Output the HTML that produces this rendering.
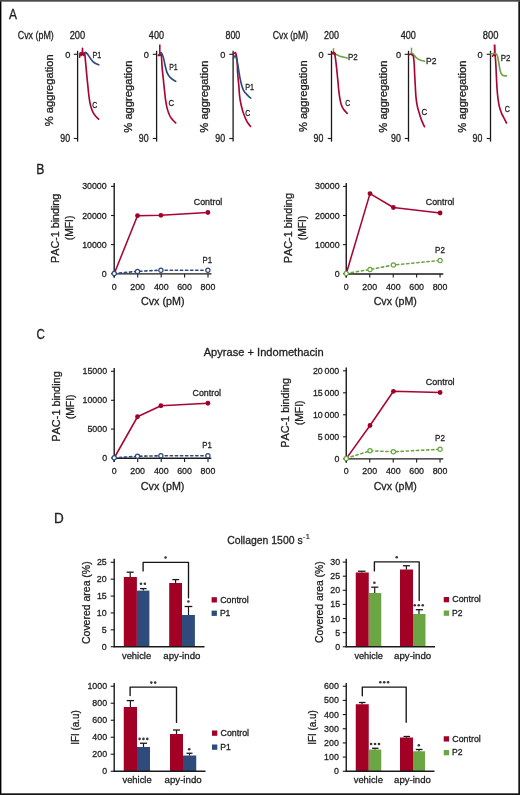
<!DOCTYPE html>
<html><head><meta charset="utf-8"><title>Figure</title>
<style>
html,body{margin:0;padding:0;background:#fff;}
body{width:520px;height:795px;overflow:hidden;}
svg{display:block;will-change:transform;}
text{font-family:"Liberation Sans",sans-serif;font-kerning:none;stroke:#1f1f1f;stroke-width:0.3px;}
</style></head>
<body>
<svg width="520" height="795" viewBox="0 0 520 795">
<rect x="0" y="0" width="520" height="795" fill="#fff"/>
<text x="8.98" y="18.60" font-size="14.6" textLength="7.95" lengthAdjust="spacingAndGlyphs" fill="#1f1f1f" style="stroke-width:0.32px">A</text>
<text x="17.75" y="39.20" font-size="10.0" textLength="36.00" lengthAdjust="spacingAndGlyphs" fill="#1f1f1f">Cvx (pM)</text>
<text x="272.76" y="39.20" font-size="10.0" textLength="35.28" lengthAdjust="spacingAndGlyphs" fill="#1f1f1f">Cvx (pM)</text>
<text x="69.68" y="39.20" font-size="10.0" textLength="15.53" lengthAdjust="spacingAndGlyphs" fill="#1f1f1f">200</text>
<text x="148.84" y="39.20" font-size="10.0" textLength="15.16" lengthAdjust="spacingAndGlyphs" fill="#1f1f1f">400</text>
<text x="225.47" y="39.20" font-size="10.0" textLength="14.73" lengthAdjust="spacingAndGlyphs" fill="#1f1f1f">800</text>
<text x="324.10" y="39.20" font-size="10.0" textLength="14.90" lengthAdjust="spacingAndGlyphs" fill="#1f1f1f">200</text>
<text x="400.74" y="39.20" font-size="10.0" textLength="15.16" lengthAdjust="spacingAndGlyphs" fill="#1f1f1f">400</text>
<text x="482.74" y="39.20" font-size="10.0" textLength="15.68" lengthAdjust="spacingAndGlyphs" fill="#1f1f1f">800</text>
<line x1="77.60" y1="50.80" x2="77.60" y2="141.60" stroke="#1a1a1a" stroke-width="1.3"/>
<line x1="73.80" y1="54.30" x2="77.60" y2="54.30" stroke="#1a1a1a" stroke-width="1.1"/>
<line x1="73.80" y1="138.50" x2="77.60" y2="138.50" stroke="#1a1a1a" stroke-width="1.1"/>
<text x="65.24" y="57.80" font-size="9.7" textLength="5.12" lengthAdjust="spacingAndGlyphs" fill="#1f1f1f">0</text>
<text x="60.26" y="141.60" font-size="10.0" textLength="9.79" lengthAdjust="spacingAndGlyphs" fill="#1f1f1f">90</text>
<text transform="translate(52.70,125.80) rotate(-90)" x="-0.40" y="0" font-size="11.6" textLength="71.82" lengthAdjust="spacingAndGlyphs" fill="#1f1f1f">% aggregation</text>
<line x1="156.60" y1="50.80" x2="156.60" y2="141.60" stroke="#1a1a1a" stroke-width="1.3"/>
<line x1="152.80" y1="54.30" x2="156.60" y2="54.30" stroke="#1a1a1a" stroke-width="1.1"/>
<line x1="152.80" y1="138.50" x2="156.60" y2="138.50" stroke="#1a1a1a" stroke-width="1.1"/>
<text x="143.74" y="57.80" font-size="9.7" textLength="5.12" lengthAdjust="spacingAndGlyphs" fill="#1f1f1f">0</text>
<text x="138.76" y="141.60" font-size="10.0" textLength="9.79" lengthAdjust="spacingAndGlyphs" fill="#1f1f1f">90</text>
<text transform="translate(131.80,132.30) rotate(-90)" x="-0.40" y="0" font-size="11.6" textLength="72.23" lengthAdjust="spacingAndGlyphs" fill="#1f1f1f">% aggregation</text>
<line x1="233.10" y1="50.80" x2="233.10" y2="141.60" stroke="#1a1a1a" stroke-width="1.3"/>
<line x1="229.30" y1="54.30" x2="233.10" y2="54.30" stroke="#1a1a1a" stroke-width="1.1"/>
<line x1="229.30" y1="138.50" x2="233.10" y2="138.50" stroke="#1a1a1a" stroke-width="1.1"/>
<text x="220.24" y="57.80" font-size="9.7" textLength="5.12" lengthAdjust="spacingAndGlyphs" fill="#1f1f1f">0</text>
<text x="215.26" y="141.60" font-size="10.0" textLength="9.79" lengthAdjust="spacingAndGlyphs" fill="#1f1f1f">90</text>
<text transform="translate(208.00,132.30) rotate(-90)" x="-0.40" y="0" font-size="11.6" textLength="72.23" lengthAdjust="spacingAndGlyphs" fill="#1f1f1f">% aggregation</text>
<line x1="331.50" y1="50.80" x2="331.50" y2="141.60" stroke="#1a1a1a" stroke-width="1.3"/>
<line x1="327.70" y1="54.30" x2="331.50" y2="54.30" stroke="#1a1a1a" stroke-width="1.1"/>
<line x1="327.70" y1="138.50" x2="331.50" y2="138.50" stroke="#1a1a1a" stroke-width="1.1"/>
<text x="318.54" y="57.80" font-size="9.7" textLength="5.12" lengthAdjust="spacingAndGlyphs" fill="#1f1f1f">0</text>
<text x="313.56" y="141.60" font-size="10.0" textLength="9.79" lengthAdjust="spacingAndGlyphs" fill="#1f1f1f">90</text>
<text transform="translate(307.10,131.70) rotate(-90)" x="-0.40" y="0" font-size="11.6" textLength="71.82" lengthAdjust="spacingAndGlyphs" fill="#1f1f1f">% aggregation</text>
<line x1="408.50" y1="50.80" x2="408.50" y2="141.60" stroke="#1a1a1a" stroke-width="1.3"/>
<line x1="404.70" y1="54.30" x2="408.50" y2="54.30" stroke="#1a1a1a" stroke-width="1.1"/>
<line x1="404.70" y1="138.50" x2="408.50" y2="138.50" stroke="#1a1a1a" stroke-width="1.1"/>
<text x="396.04" y="57.80" font-size="9.7" textLength="5.12" lengthAdjust="spacingAndGlyphs" fill="#1f1f1f">0</text>
<text x="391.06" y="141.60" font-size="10.0" textLength="9.79" lengthAdjust="spacingAndGlyphs" fill="#1f1f1f">90</text>
<text transform="translate(386.90,132.30) rotate(-90)" x="-0.40" y="0" font-size="11.6" textLength="72.23" lengthAdjust="spacingAndGlyphs" fill="#1f1f1f">% aggregation</text>
<line x1="490.50" y1="50.80" x2="490.50" y2="141.60" stroke="#1a1a1a" stroke-width="1.3"/>
<line x1="486.70" y1="54.30" x2="490.50" y2="54.30" stroke="#1a1a1a" stroke-width="1.1"/>
<line x1="486.70" y1="138.50" x2="490.50" y2="138.50" stroke="#1a1a1a" stroke-width="1.1"/>
<text x="477.54" y="57.80" font-size="9.7" textLength="5.12" lengthAdjust="spacingAndGlyphs" fill="#1f1f1f">0</text>
<text x="472.56" y="141.60" font-size="10.0" textLength="9.79" lengthAdjust="spacingAndGlyphs" fill="#1f1f1f">90</text>
<text transform="translate(465.90,132.30) rotate(-90)" x="-0.40" y="0" font-size="11.6" textLength="72.23" lengthAdjust="spacingAndGlyphs" fill="#1f1f1f">% aggregation</text>
<path d="M84.70,52.80 C84.78,53.67 85.00,55.87 85.20,58.00 C85.40,60.13 85.63,62.70 85.90,65.60 C86.17,68.50 86.48,72.12 86.80,75.40 C87.12,78.68 87.47,82.03 87.80,85.30 C88.13,88.57 88.47,92.22 88.80,95.00 C89.13,97.78 89.40,99.87 89.80,102.00 C90.20,104.13 90.63,106.02 91.20,107.80 C91.77,109.58 92.45,111.30 93.20,112.70 C93.95,114.10 94.80,115.13 95.70,116.20 C96.60,117.27 98.12,118.62 98.60,119.10" fill="none" stroke="#A80534" stroke-width="1.65" stroke-linejoin="round" stroke-linecap="round"/>
<path d="M79.70,57.30 L79.90,53.20 L81.00,52.80 L81.40,55.50 L82.30,52.80 L82.50,48.30 L82.70,53.50 L83.50,55.50 L84.20,52.80 L84.70,52.80" fill="none" stroke="#A80534" stroke-width="1.6" stroke-linejoin="round" stroke-linecap="round"/>
<path d="M85.00,52.80 C85.10,52.72 85.33,52.23 85.60,52.30 C85.87,52.37 86.23,52.83 86.60,53.20 C86.97,53.57 87.18,53.65 87.80,54.50 C88.42,55.35 89.48,57.17 90.30,58.30 C91.12,59.43 91.80,60.43 92.70,61.30 C93.60,62.17 94.68,62.92 95.70,63.50 C96.72,64.08 98.28,64.58 98.80,64.80" fill="none" stroke="#2F4B7C" stroke-width="1.65" stroke-linejoin="round" stroke-linecap="round"/>
<text x="92.41" y="57.80" font-size="9.0" textLength="8.73" lengthAdjust="spacingAndGlyphs" fill="#1f1f1f">P1</text>
<text x="92.25" y="107.50" font-size="9.0" textLength="5.02" lengthAdjust="spacingAndGlyphs" fill="#1f1f1f">C</text>
<line x1="159.80" y1="44.60" x2="159.80" y2="55.00" stroke="#A80534" stroke-width="1.6"/>
<path d="M158.30,55.50 L159.80,53.80 L161.20,55.50" fill="none" stroke="#A80534" stroke-width="1.4" stroke-linejoin="round" stroke-linecap="round"/>
<path d="M158.50,55.50 C158.83,55.45 160.02,55.12 160.50,55.20 C160.98,55.28 161.12,53.80 161.40,56.00 C161.68,58.20 161.88,64.57 162.20,68.40 C162.52,72.23 162.93,75.47 163.30,79.00 C163.67,82.53 164.02,86.08 164.40,89.60 C164.78,93.12 165.13,96.93 165.60,100.10 C166.07,103.27 166.48,105.95 167.20,108.60 C167.92,111.25 169.02,114.15 169.90,116.00 C170.78,117.85 171.53,118.55 172.50,119.70 C173.47,120.85 175.17,122.37 175.70,122.90" fill="none" stroke="#A80534" stroke-width="1.65" stroke-linejoin="round" stroke-linecap="round"/>
<path d="M160.30,53.20 C160.40,53.10 160.63,52.53 160.90,52.60 C161.17,52.67 161.47,52.72 161.90,53.60 C162.33,54.48 162.97,55.95 163.50,57.90 C164.03,59.85 164.57,63.02 165.10,65.30 C165.63,67.58 166.08,69.85 166.70,71.60 C167.32,73.35 167.92,74.57 168.80,75.80 C169.68,77.03 170.85,78.08 172.00,79.00 C173.15,79.92 175.08,80.92 175.70,81.30" fill="none" stroke="#2F4B7C" stroke-width="1.65" stroke-linejoin="round" stroke-linecap="round"/>
<text x="169.23" y="69.80" font-size="9.0" textLength="8.51" lengthAdjust="spacingAndGlyphs" fill="#1f1f1f">P1</text>
<text x="168.51" y="106.40" font-size="9.0" textLength="5.59" lengthAdjust="spacingAndGlyphs" fill="#1f1f1f">C</text>
<path d="M233.10,54.50 C233.48,54.17 234.83,52.22 235.40,52.50 C235.97,52.78 236.23,54.98 236.50,56.20 C236.77,57.42 236.85,58.17 237.00,59.80 C237.15,61.43 237.30,63.97 237.40,66.00 C237.50,68.03 237.47,69.78 237.60,72.00 C237.73,74.22 237.98,76.87 238.20,79.30 C238.42,81.73 238.70,84.17 238.90,86.60 C239.10,89.03 239.20,91.72 239.40,93.90 C239.60,96.08 239.82,97.88 240.10,99.70 C240.38,101.52 240.68,102.97 241.10,104.80 C241.52,106.63 242.05,108.87 242.60,110.70 C243.15,112.53 243.73,114.10 244.40,115.80 C245.07,117.50 245.93,119.57 246.60,120.90 C247.27,122.23 247.73,122.88 248.40,123.80 C249.07,124.72 250.23,125.97 250.60,126.40" fill="none" stroke="#A80534" stroke-width="1.65" stroke-linejoin="round" stroke-linecap="round"/>
<path d="M233.30,58.50 C233.63,58.00 234.72,55.25 235.30,55.50 C235.88,55.75 236.37,58.42 236.80,60.00 C237.23,61.58 237.57,63.17 237.90,65.00 C238.23,66.83 238.48,69.00 238.80,71.00 C239.12,73.00 239.42,75.00 239.80,77.00 C240.18,79.00 240.63,81.15 241.10,83.00 C241.57,84.85 242.05,86.65 242.60,88.10 C243.15,89.55 243.67,90.62 244.40,91.70 C245.13,92.78 246.20,93.75 247.00,94.60 C247.80,95.45 248.57,96.22 249.20,96.80 C249.83,97.38 250.53,97.88 250.80,98.10" fill="none" stroke="#2F4B7C" stroke-width="1.65" stroke-linejoin="round" stroke-linecap="round"/>
<text x="245.31" y="89.90" font-size="9.0" textLength="8.85" lengthAdjust="spacingAndGlyphs" fill="#1f1f1f">P1</text>
<text x="245.15" y="115.60" font-size="9.0" textLength="5.02" lengthAdjust="spacingAndGlyphs" fill="#1f1f1f">C</text>
<line x1="333.50" y1="48.20" x2="333.50" y2="53.50" stroke="#6BA544" stroke-width="1.5"/>
<path d="M333.00,53.50 C333.43,53.62 334.55,53.80 335.60,54.20 C336.65,54.60 338.07,55.43 339.30,55.90 C340.53,56.37 341.68,56.65 343.00,57.00 C344.32,57.35 346.50,57.83 347.20,58.00" fill="none" stroke="#6BA544" stroke-width="1.65" stroke-linejoin="round" stroke-linecap="round"/>
<path d="M332.30,53.50 L333.50,52.20 L334.80,53.20 L335.40,54.20" fill="none" stroke="#A80534" stroke-width="1.6" stroke-linejoin="round" stroke-linecap="round"/>
<path d="M332.30,53.40 C332.62,53.43 333.73,53.15 334.20,53.60 C334.67,54.05 334.80,54.60 335.10,56.10 C335.40,57.60 335.68,59.97 336.00,62.60 C336.32,65.23 336.68,68.80 337.00,71.90 C337.32,75.00 337.60,78.08 337.90,81.20 C338.20,84.32 338.48,87.80 338.80,90.60 C339.12,93.40 339.40,95.68 339.80,98.00 C340.20,100.32 340.58,102.63 341.20,104.50 C341.82,106.37 342.50,107.72 343.50,109.20 C344.50,110.68 346.58,112.70 347.20,113.40" fill="none" stroke="#A80534" stroke-width="1.65" stroke-linejoin="round" stroke-linecap="round"/>
<text x="347.95" y="60.00" font-size="9.0" textLength="9.76" lengthAdjust="spacingAndGlyphs" fill="#1f1f1f">P2</text>
<text x="345.36" y="105.60" font-size="9.0" textLength="4.90" lengthAdjust="spacingAndGlyphs" fill="#1f1f1f">C</text>
<line x1="411.50" y1="47.70" x2="411.50" y2="54.60" stroke="#6BA544" stroke-width="1.5"/>
<path d="M411.50,54.40 C411.75,54.30 412.22,53.25 413.00,53.80 C413.78,54.35 415.03,56.67 416.20,57.70 C417.37,58.73 418.60,59.42 420.00,60.00 C421.40,60.58 423.83,61.00 424.60,61.20" fill="none" stroke="#6BA544" stroke-width="1.65" stroke-linejoin="round" stroke-linecap="round"/>
<path d="M409.00,54.80 C409.27,54.67 410.07,53.97 410.60,54.00 C411.13,54.03 411.73,54.57 412.20,55.00 C412.67,55.43 413.07,55.08 413.40,56.60 C413.73,58.12 413.98,61.00 414.20,64.10 C414.42,67.20 414.52,71.50 414.70,75.20 C414.88,78.90 415.08,82.60 415.30,86.30 C415.52,90.00 415.67,94.08 416.00,97.40 C416.33,100.72 416.72,103.43 417.30,106.20 C417.88,108.97 418.77,111.60 419.50,114.00 C420.23,116.40 420.87,118.48 421.70,120.60 C422.53,122.72 424.03,125.68 424.50,126.70" fill="none" stroke="#A80534" stroke-width="1.65" stroke-linejoin="round" stroke-linecap="round"/>
<text x="426.00" y="63.80" font-size="9.0" textLength="10.43" lengthAdjust="spacingAndGlyphs" fill="#1f1f1f">P2</text>
<text x="421.60" y="114.60" font-size="9.0" textLength="5.70" lengthAdjust="spacingAndGlyphs" fill="#1f1f1f">C</text>
<line x1="494.60" y1="44.40" x2="494.90" y2="56.00" stroke="#A80534" stroke-width="1.9"/>
<path d="M492.40,56.20 L493.60,54.80 L494.80,55.50" fill="none" stroke="#A80534" stroke-width="1.5" stroke-linejoin="round" stroke-linecap="round"/>
<path d="M494.90,55.50 C494.98,55.92 495.22,55.97 495.40,58.00 C495.58,60.03 495.82,64.23 496.00,67.70 C496.18,71.17 496.32,75.12 496.50,78.80 C496.68,82.48 496.85,86.48 497.10,89.80 C497.35,93.12 497.63,95.93 498.00,98.70 C498.37,101.47 498.72,104.00 499.30,106.40 C499.88,108.80 500.77,111.25 501.50,113.10 C502.23,114.95 502.87,115.85 503.70,117.50 C504.53,119.15 506.03,122.08 506.50,123.00" fill="none" stroke="#A80534" stroke-width="1.65" stroke-linejoin="round" stroke-linecap="round"/>
<path d="M491.00,53.80 C491.47,53.75 492.92,53.50 493.80,53.50 C494.68,53.50 495.67,53.28 496.30,53.80 C496.93,54.32 497.20,55.22 497.60,56.60 C498.00,57.98 498.33,60.07 498.70,62.10 C499.07,64.13 499.42,66.95 499.80,68.80 C500.18,70.65 500.53,72.13 501.00,73.20 C501.47,74.27 501.68,74.73 502.60,75.20 C503.52,75.67 505.85,75.87 506.50,76.00" fill="none" stroke="#6BA544" stroke-width="1.65" stroke-linejoin="round" stroke-linecap="round"/>
<text x="500.75" y="61.00" font-size="9.0" textLength="9.64" lengthAdjust="spacingAndGlyphs" fill="#1f1f1f">P2</text>
<text x="504.64" y="111.50" font-size="9.0" textLength="5.13" lengthAdjust="spacingAndGlyphs" fill="#1f1f1f">C</text>
<text x="36.20" y="173.60" font-size="14.3" textLength="8.15" lengthAdjust="spacingAndGlyphs" fill="#1f1f1f" style="stroke-width:0.32px">B</text>
<line x1="114.20" y1="183.00" x2="114.20" y2="277.50" stroke="#1a1a1a" stroke-width="1.4"/>
<line x1="113.60" y1="273.90" x2="211.50" y2="273.90" stroke="#1a1a1a" stroke-width="1.4"/>
<line x1="111.00" y1="273.70" x2="114.20" y2="273.70" stroke="#1a1a1a" stroke-width="1.1"/>
<text x="101.78" y="276.70" font-size="9.5" textLength="4.91" lengthAdjust="spacingAndGlyphs" fill="#1f1f1f">0</text>
<line x1="111.00" y1="244.60" x2="114.20" y2="244.60" stroke="#1a1a1a" stroke-width="1.1"/>
<text x="82.13" y="247.60" font-size="9.5" textLength="24.57" lengthAdjust="spacingAndGlyphs" fill="#1f1f1f">10000</text>
<line x1="111.00" y1="215.50" x2="114.20" y2="215.50" stroke="#1a1a1a" stroke-width="1.1"/>
<text x="82.13" y="218.50" font-size="9.5" textLength="24.57" lengthAdjust="spacingAndGlyphs" fill="#1f1f1f">20000</text>
<line x1="111.00" y1="186.40" x2="114.20" y2="186.40" stroke="#1a1a1a" stroke-width="1.1"/>
<text x="82.13" y="189.40" font-size="9.5" textLength="24.57" lengthAdjust="spacingAndGlyphs" fill="#1f1f1f">30000</text>
<line x1="114.20" y1="273.90" x2="114.20" y2="277.50" stroke="#1a1a1a" stroke-width="1.1"/>
<text x="111.74" y="289.70" font-size="9.5" textLength="4.91" lengthAdjust="spacingAndGlyphs" fill="#1f1f1f">0</text>
<line x1="137.70" y1="273.90" x2="137.70" y2="277.50" stroke="#1a1a1a" stroke-width="1.1"/>
<text x="130.28" y="289.70" font-size="9.5" textLength="14.74" lengthAdjust="spacingAndGlyphs" fill="#1f1f1f">200</text>
<line x1="161.20" y1="273.90" x2="161.20" y2="277.50" stroke="#1a1a1a" stroke-width="1.1"/>
<text x="153.90" y="289.70" font-size="9.5" textLength="14.74" lengthAdjust="spacingAndGlyphs" fill="#1f1f1f">400</text>
<line x1="184.60" y1="273.90" x2="184.60" y2="277.50" stroke="#1a1a1a" stroke-width="1.1"/>
<text x="177.18" y="289.70" font-size="9.5" textLength="14.74" lengthAdjust="spacingAndGlyphs" fill="#1f1f1f">600</text>
<line x1="208.00" y1="273.90" x2="208.00" y2="277.50" stroke="#1a1a1a" stroke-width="1.1"/>
<text x="200.61" y="289.70" font-size="9.5" textLength="14.74" lengthAdjust="spacingAndGlyphs" fill="#1f1f1f">800</text>
<path d="M114.20,273.50 L137.50,271.40 L160.90,270.20 L207.90,270.20" fill="none" stroke="#2F4B7C" stroke-width="1.6" stroke-linejoin="round" stroke-linecap="round" stroke-dasharray="2.3 2.8" stroke-linecap="butt"/>
<path d="M114.20,273.70 L137.50,215.70 L160.90,215.30 L207.90,212.50" fill="none" stroke="#A80534" stroke-width="1.55" stroke-linejoin="round" stroke-linecap="round"/>
<circle cx="137.50" cy="215.70" r="2.4" fill="#A30026" stroke="none" stroke-width="0"/>
<circle cx="160.90" cy="215.30" r="2.4" fill="#A30026" stroke="none" stroke-width="0"/>
<circle cx="207.90" cy="212.50" r="2.4" fill="#A30026" stroke="none" stroke-width="0"/>
<circle cx="114.20" cy="273.50" r="2.1" fill="#fff" stroke="#2F4B7C" stroke-width="1.2"/>
<circle cx="137.50" cy="271.40" r="2.1" fill="#fff" stroke="#2F4B7C" stroke-width="1.2"/>
<circle cx="160.90" cy="270.20" r="2.1" fill="#fff" stroke="#2F4B7C" stroke-width="1.2"/>
<circle cx="207.90" cy="270.20" r="2.1" fill="#fff" stroke="#2F4B7C" stroke-width="1.2"/>
<text x="193.80" y="205.00" font-size="9.4" textLength="28.54" lengthAdjust="spacingAndGlyphs" fill="#1f1f1f">Control</text>
<text x="202.61" y="262.50" font-size="9.4" textLength="9.52" lengthAdjust="spacingAndGlyphs" fill="#1f1f1f">P1</text>
<text x="140.96" y="304.80" font-size="10.8" textLength="43.51" lengthAdjust="spacingAndGlyphs" fill="#1f1f1f">Cvx (pM)</text>
<text transform="translate(59.00,262.00) rotate(-90)" x="-0.88" y="0" font-size="11.0" textLength="69.17" lengthAdjust="spacingAndGlyphs" fill="#1f1f1f">PAC-1 binding</text>
<text transform="translate(72.60,239.60) rotate(-90)" x="-0.64" y="0" font-size="10.2" textLength="24.58" lengthAdjust="spacingAndGlyphs" fill="#1f1f1f">(MFI)</text>
<line x1="346.25" y1="183.00" x2="346.25" y2="277.60" stroke="#1a1a1a" stroke-width="1.4"/>
<line x1="345.65" y1="274.00" x2="443.30" y2="274.00" stroke="#1a1a1a" stroke-width="1.4"/>
<line x1="343.05" y1="273.70" x2="346.25" y2="273.70" stroke="#1a1a1a" stroke-width="1.1"/>
<text x="334.68" y="276.70" font-size="9.5" textLength="4.91" lengthAdjust="spacingAndGlyphs" fill="#1f1f1f">0</text>
<line x1="343.05" y1="244.60" x2="346.25" y2="244.60" stroke="#1a1a1a" stroke-width="1.1"/>
<text x="315.03" y="247.60" font-size="9.5" textLength="24.57" lengthAdjust="spacingAndGlyphs" fill="#1f1f1f">10000</text>
<line x1="343.05" y1="215.50" x2="346.25" y2="215.50" stroke="#1a1a1a" stroke-width="1.1"/>
<text x="315.03" y="218.50" font-size="9.5" textLength="24.57" lengthAdjust="spacingAndGlyphs" fill="#1f1f1f">20000</text>
<line x1="343.05" y1="186.40" x2="346.25" y2="186.40" stroke="#1a1a1a" stroke-width="1.1"/>
<text x="315.03" y="189.40" font-size="9.5" textLength="24.57" lengthAdjust="spacingAndGlyphs" fill="#1f1f1f">30000</text>
<line x1="346.25" y1="274.00" x2="346.25" y2="277.60" stroke="#1a1a1a" stroke-width="1.1"/>
<text x="343.79" y="289.70" font-size="9.5" textLength="4.91" lengthAdjust="spacingAndGlyphs" fill="#1f1f1f">0</text>
<line x1="369.75" y1="274.00" x2="369.75" y2="277.60" stroke="#1a1a1a" stroke-width="1.1"/>
<text x="362.33" y="289.70" font-size="9.5" textLength="14.74" lengthAdjust="spacingAndGlyphs" fill="#1f1f1f">200</text>
<line x1="393.25" y1="274.00" x2="393.25" y2="277.60" stroke="#1a1a1a" stroke-width="1.1"/>
<text x="385.95" y="289.70" font-size="9.5" textLength="14.74" lengthAdjust="spacingAndGlyphs" fill="#1f1f1f">400</text>
<line x1="416.65" y1="274.00" x2="416.65" y2="277.60" stroke="#1a1a1a" stroke-width="1.1"/>
<text x="409.23" y="289.70" font-size="9.5" textLength="14.74" lengthAdjust="spacingAndGlyphs" fill="#1f1f1f">600</text>
<line x1="440.05" y1="274.00" x2="440.05" y2="277.60" stroke="#1a1a1a" stroke-width="1.1"/>
<text x="432.66" y="289.70" font-size="9.5" textLength="14.74" lengthAdjust="spacingAndGlyphs" fill="#1f1f1f">800</text>
<path d="M346.25,273.40 L370.00,269.50 L393.40,265.00 L440.10,260.50" fill="none" stroke="#6BA544" stroke-width="1.6" stroke-linejoin="round" stroke-linecap="round" stroke-dasharray="2.3 2.8" stroke-linecap="butt"/>
<path d="M346.25,273.70 L370.00,193.60 L393.40,207.50 L440.10,213.00" fill="none" stroke="#A80534" stroke-width="1.55" stroke-linejoin="round" stroke-linecap="round"/>
<circle cx="370.00" cy="193.60" r="2.4" fill="#A30026" stroke="none" stroke-width="0"/>
<circle cx="393.40" cy="207.50" r="2.4" fill="#A30026" stroke="none" stroke-width="0"/>
<circle cx="440.10" cy="213.00" r="2.4" fill="#A30026" stroke="none" stroke-width="0"/>
<circle cx="346.25" cy="273.40" r="2.1" fill="#fff" stroke="#6BA544" stroke-width="1.2"/>
<circle cx="370.00" cy="269.50" r="2.1" fill="#fff" stroke="#6BA544" stroke-width="1.2"/>
<circle cx="393.40" cy="265.00" r="2.1" fill="#fff" stroke="#6BA544" stroke-width="1.2"/>
<circle cx="440.10" cy="260.50" r="2.1" fill="#fff" stroke="#6BA544" stroke-width="1.2"/>
<text x="425.80" y="204.90" font-size="9.4" textLength="28.54" lengthAdjust="spacingAndGlyphs" fill="#1f1f1f">Control</text>
<text x="435.09" y="253.00" font-size="9.4" textLength="9.81" lengthAdjust="spacingAndGlyphs" fill="#1f1f1f">P2</text>
<text x="373.66" y="304.80" font-size="10.8" textLength="43.20" lengthAdjust="spacingAndGlyphs" fill="#1f1f1f">Cvx (pM)</text>
<text transform="translate(291.70,262.40) rotate(-90)" x="-0.89" y="0" font-size="11.0" textLength="70.25" lengthAdjust="spacingAndGlyphs" fill="#1f1f1f">PAC-1 binding</text>
<text transform="translate(305.70,239.60) rotate(-90)" x="-0.64" y="0" font-size="10.2" textLength="24.58" lengthAdjust="spacingAndGlyphs" fill="#1f1f1f">(MFI)</text>
<text x="36.61" y="338.80" font-size="14.3" textLength="8.32" lengthAdjust="spacingAndGlyphs" fill="#1f1f1f" style="stroke-width:0.32px">C</text>
<text x="203.73" y="355.50" font-size="11.0" textLength="119.99" lengthAdjust="spacingAndGlyphs" fill="#1f1f1f">Apyrase + Indomethacin</text>
<line x1="114.20" y1="368.00" x2="114.20" y2="461.90" stroke="#1a1a1a" stroke-width="1.4"/>
<line x1="113.60" y1="458.30" x2="211.30" y2="458.30" stroke="#1a1a1a" stroke-width="1.4"/>
<line x1="111.00" y1="458.00" x2="114.20" y2="458.00" stroke="#1a1a1a" stroke-width="1.1"/>
<text x="102.18" y="461.00" font-size="9.5" textLength="4.91" lengthAdjust="spacingAndGlyphs" fill="#1f1f1f">0</text>
<line x1="111.00" y1="429.10" x2="114.20" y2="429.10" stroke="#1a1a1a" stroke-width="1.1"/>
<text x="87.44" y="432.10" font-size="9.5" textLength="19.65" lengthAdjust="spacingAndGlyphs" fill="#1f1f1f">5000</text>
<line x1="111.00" y1="400.30" x2="114.20" y2="400.30" stroke="#1a1a1a" stroke-width="1.1"/>
<text x="82.53" y="403.30" font-size="9.5" textLength="24.57" lengthAdjust="spacingAndGlyphs" fill="#1f1f1f">10000</text>
<line x1="111.00" y1="371.30" x2="114.20" y2="371.30" stroke="#1a1a1a" stroke-width="1.1"/>
<text x="82.53" y="374.30" font-size="9.5" textLength="24.57" lengthAdjust="spacingAndGlyphs" fill="#1f1f1f">15000</text>
<line x1="114.20" y1="458.30" x2="114.20" y2="461.90" stroke="#1a1a1a" stroke-width="1.1"/>
<text x="111.74" y="474.10" font-size="9.5" textLength="4.91" lengthAdjust="spacingAndGlyphs" fill="#1f1f1f">0</text>
<line x1="137.70" y1="458.30" x2="137.70" y2="461.90" stroke="#1a1a1a" stroke-width="1.1"/>
<text x="130.28" y="474.10" font-size="9.5" textLength="14.74" lengthAdjust="spacingAndGlyphs" fill="#1f1f1f">200</text>
<line x1="161.20" y1="458.30" x2="161.20" y2="461.90" stroke="#1a1a1a" stroke-width="1.1"/>
<text x="153.90" y="474.10" font-size="9.5" textLength="14.74" lengthAdjust="spacingAndGlyphs" fill="#1f1f1f">400</text>
<line x1="184.60" y1="458.30" x2="184.60" y2="461.90" stroke="#1a1a1a" stroke-width="1.1"/>
<text x="177.18" y="474.10" font-size="9.5" textLength="14.74" lengthAdjust="spacingAndGlyphs" fill="#1f1f1f">600</text>
<line x1="208.00" y1="458.30" x2="208.00" y2="461.90" stroke="#1a1a1a" stroke-width="1.1"/>
<text x="200.61" y="474.10" font-size="9.5" textLength="14.74" lengthAdjust="spacingAndGlyphs" fill="#1f1f1f">800</text>
<path d="M114.20,457.80 L137.50,456.25 L160.90,455.75 L207.90,455.75" fill="none" stroke="#2F4B7C" stroke-width="1.6" stroke-linejoin="round" stroke-linecap="round" stroke-dasharray="2.3 2.8" stroke-linecap="butt"/>
<path d="M114.20,458.00 L137.50,416.75 L160.90,405.75 L207.90,403.25" fill="none" stroke="#A80534" stroke-width="1.55" stroke-linejoin="round" stroke-linecap="round"/>
<circle cx="137.50" cy="416.75" r="2.4" fill="#A30026" stroke="none" stroke-width="0"/>
<circle cx="160.90" cy="405.75" r="2.4" fill="#A30026" stroke="none" stroke-width="0"/>
<circle cx="207.90" cy="403.25" r="2.4" fill="#A30026" stroke="none" stroke-width="0"/>
<circle cx="114.20" cy="457.80" r="2.1" fill="#fff" stroke="#2F4B7C" stroke-width="1.2"/>
<circle cx="137.50" cy="456.25" r="2.1" fill="#fff" stroke="#2F4B7C" stroke-width="1.2"/>
<circle cx="160.90" cy="455.75" r="2.1" fill="#fff" stroke="#2F4B7C" stroke-width="1.2"/>
<circle cx="207.90" cy="455.75" r="2.1" fill="#fff" stroke="#2F4B7C" stroke-width="1.2"/>
<text x="192.55" y="396.25" font-size="9.4" textLength="28.54" lengthAdjust="spacingAndGlyphs" fill="#1f1f1f">Control</text>
<text x="202.36" y="448.25" font-size="9.4" textLength="9.52" lengthAdjust="spacingAndGlyphs" fill="#1f1f1f">P1</text>
<text x="140.85" y="489.80" font-size="10.8" textLength="43.61" lengthAdjust="spacingAndGlyphs" fill="#1f1f1f">Cvx (pM)</text>
<text transform="translate(60.00,440.80) rotate(-90)" x="-0.90" y="0" font-size="11.0" textLength="70.40" lengthAdjust="spacingAndGlyphs" fill="#1f1f1f">PAC-1 binding</text>
<text transform="translate(73.60,418.60) rotate(-90)" x="-0.64" y="0" font-size="10.2" textLength="24.68" lengthAdjust="spacingAndGlyphs" fill="#1f1f1f">(MFI)</text>
<line x1="346.25" y1="367.50" x2="346.25" y2="462.50" stroke="#1a1a1a" stroke-width="1.4"/>
<line x1="345.65" y1="458.90" x2="443.30" y2="458.90" stroke="#1a1a1a" stroke-width="1.4"/>
<line x1="343.05" y1="458.80" x2="346.25" y2="458.80" stroke="#1a1a1a" stroke-width="1.1"/>
<text x="334.38" y="461.80" font-size="9.5" textLength="4.91" lengthAdjust="spacingAndGlyphs" fill="#1f1f1f">0</text>
<line x1="343.05" y1="436.80" x2="346.25" y2="436.80" stroke="#1a1a1a" stroke-width="1.1"/>
<text x="317.87" y="439.80" font-size="9.5" textLength="21.42" lengthAdjust="spacingAndGlyphs" fill="#1f1f1f">5 000</text>
<line x1="343.05" y1="414.80" x2="346.25" y2="414.80" stroke="#1a1a1a" stroke-width="1.1"/>
<text x="312.96" y="417.80" font-size="9.5" textLength="26.34" lengthAdjust="spacingAndGlyphs" fill="#1f1f1f">10 000</text>
<line x1="343.05" y1="392.80" x2="346.25" y2="392.80" stroke="#1a1a1a" stroke-width="1.1"/>
<text x="312.96" y="395.80" font-size="9.5" textLength="26.34" lengthAdjust="spacingAndGlyphs" fill="#1f1f1f">15 000</text>
<line x1="343.05" y1="370.80" x2="346.25" y2="370.80" stroke="#1a1a1a" stroke-width="1.1"/>
<text x="312.96" y="373.80" font-size="9.5" textLength="26.34" lengthAdjust="spacingAndGlyphs" fill="#1f1f1f">20 000</text>
<line x1="346.25" y1="458.90" x2="346.25" y2="462.50" stroke="#1a1a1a" stroke-width="1.1"/>
<text x="343.79" y="474.10" font-size="9.5" textLength="4.91" lengthAdjust="spacingAndGlyphs" fill="#1f1f1f">0</text>
<line x1="369.75" y1="458.90" x2="369.75" y2="462.50" stroke="#1a1a1a" stroke-width="1.1"/>
<text x="362.33" y="474.10" font-size="9.5" textLength="14.74" lengthAdjust="spacingAndGlyphs" fill="#1f1f1f">200</text>
<line x1="393.25" y1="458.90" x2="393.25" y2="462.50" stroke="#1a1a1a" stroke-width="1.1"/>
<text x="385.95" y="474.10" font-size="9.5" textLength="14.74" lengthAdjust="spacingAndGlyphs" fill="#1f1f1f">400</text>
<line x1="416.65" y1="458.90" x2="416.65" y2="462.50" stroke="#1a1a1a" stroke-width="1.1"/>
<text x="409.23" y="474.10" font-size="9.5" textLength="14.74" lengthAdjust="spacingAndGlyphs" fill="#1f1f1f">600</text>
<line x1="440.05" y1="458.90" x2="440.05" y2="462.50" stroke="#1a1a1a" stroke-width="1.1"/>
<text x="432.66" y="474.10" font-size="9.5" textLength="14.74" lengthAdjust="spacingAndGlyphs" fill="#1f1f1f">800</text>
<path d="M346.25,458.40 L370.00,450.75 L393.40,451.75 L440.10,449.25" fill="none" stroke="#6BA544" stroke-width="1.6" stroke-linejoin="round" stroke-linecap="round" stroke-dasharray="2.3 2.8" stroke-linecap="butt"/>
<path d="M346.25,458.60 L370.00,425.50 L393.40,391.30 L440.10,392.50" fill="none" stroke="#A80534" stroke-width="1.55" stroke-linejoin="round" stroke-linecap="round"/>
<circle cx="370.00" cy="425.50" r="2.4" fill="#A30026" stroke="none" stroke-width="0"/>
<circle cx="393.40" cy="391.30" r="2.4" fill="#A30026" stroke="none" stroke-width="0"/>
<circle cx="440.10" cy="392.50" r="2.4" fill="#A30026" stroke="none" stroke-width="0"/>
<circle cx="346.25" cy="458.40" r="2.1" fill="#fff" stroke="#6BA544" stroke-width="1.2"/>
<circle cx="370.00" cy="450.75" r="2.1" fill="#fff" stroke="#6BA544" stroke-width="1.2"/>
<circle cx="393.40" cy="451.75" r="2.1" fill="#fff" stroke="#6BA544" stroke-width="1.2"/>
<circle cx="440.10" cy="449.25" r="2.1" fill="#fff" stroke="#6BA544" stroke-width="1.2"/>
<text x="425.80" y="385.00" font-size="9.4" textLength="28.80" lengthAdjust="spacingAndGlyphs" fill="#1f1f1f">Control</text>
<text x="435.04" y="441.25" font-size="9.4" textLength="9.87" lengthAdjust="spacingAndGlyphs" fill="#1f1f1f">P2</text>
<text x="373.66" y="489.80" font-size="10.8" textLength="43.20" lengthAdjust="spacingAndGlyphs" fill="#1f1f1f">Cvx (pM)</text>
<text transform="translate(289.20,446.80) rotate(-90)" x="-0.89" y="0" font-size="11.0" textLength="69.63" lengthAdjust="spacingAndGlyphs" fill="#1f1f1f">PAC-1 binding</text>
<text transform="translate(302.50,424.60) rotate(-90)" x="-0.64" y="0" font-size="10.2" textLength="24.68" lengthAdjust="spacingAndGlyphs" fill="#1f1f1f">(MFI)</text>
<text x="54.09" y="523.40" font-size="14.3" textLength="9.75" lengthAdjust="spacingAndGlyphs" fill="#1f1f1f" style="stroke-width:0.32px">D</text>
<text x="227.17" y="543.80" font-size="11.0" textLength="75.51" lengthAdjust="spacingAndGlyphs" fill="#1f1f1f">Collagen 1500 s</text>
<text x="302.83" y="539.30" font-size="6.6" textLength="7.37" lengthAdjust="spacingAndGlyphs" fill="#1f1f1f" style="stroke-width:0.1px">-1</text>
<rect x="123.80" y="577.00" width="13.10" height="69.70" fill="#A30026"/>
<rect x="136.90" y="590.60" width="12.50" height="56.10" fill="#2F4B7C"/>
<rect x="169.20" y="583.00" width="12.80" height="63.70" fill="#A30026"/>
<rect x="182.00" y="615.00" width="12.90" height="31.70" fill="#2F4B7C"/>
<line x1="130.20" y1="577.00" x2="130.20" y2="572.20" stroke="#1a1a1a" stroke-width="1.2"/>
<line x1="126.60" y1="572.20" x2="133.70" y2="572.20" stroke="#1a1a1a" stroke-width="1.3"/>
<line x1="143.30" y1="590.60" x2="143.30" y2="588.60" stroke="#1a1a1a" stroke-width="1.2"/>
<line x1="140.00" y1="588.60" x2="146.60" y2="588.60" stroke="#1a1a1a" stroke-width="1.3"/>
<line x1="175.60" y1="583.00" x2="175.60" y2="579.60" stroke="#1a1a1a" stroke-width="1.2"/>
<line x1="172.30" y1="579.60" x2="179.20" y2="579.60" stroke="#1a1a1a" stroke-width="1.3"/>
<line x1="188.50" y1="615.00" x2="188.50" y2="606.50" stroke="#1a1a1a" stroke-width="1.2"/>
<line x1="184.60" y1="606.50" x2="192.30" y2="606.50" stroke="#1a1a1a" stroke-width="1.3"/>
<line x1="114.20" y1="558.75" x2="114.20" y2="647.30" stroke="#1a1a1a" stroke-width="1.4"/>
<line x1="113.60" y1="646.70" x2="204.50" y2="646.70" stroke="#1a1a1a" stroke-width="1.4"/>
<line x1="110.70" y1="646.70" x2="114.20" y2="646.70" stroke="#1a1a1a" stroke-width="1.1"/>
<text x="101.78" y="649.70" font-size="9.5" textLength="4.91" lengthAdjust="spacingAndGlyphs" fill="#1f1f1f">0</text>
<line x1="110.70" y1="629.82" x2="114.20" y2="629.82" stroke="#1a1a1a" stroke-width="1.1"/>
<text x="101.81" y="632.82" font-size="9.5" textLength="4.91" lengthAdjust="spacingAndGlyphs" fill="#1f1f1f">5</text>
<line x1="110.70" y1="612.94" x2="114.20" y2="612.94" stroke="#1a1a1a" stroke-width="1.1"/>
<text x="96.87" y="615.94" font-size="9.5" textLength="9.83" lengthAdjust="spacingAndGlyphs" fill="#1f1f1f">10</text>
<line x1="110.70" y1="596.06" x2="114.20" y2="596.06" stroke="#1a1a1a" stroke-width="1.1"/>
<text x="96.89" y="599.06" font-size="9.5" textLength="9.83" lengthAdjust="spacingAndGlyphs" fill="#1f1f1f">15</text>
<line x1="110.70" y1="579.18" x2="114.20" y2="579.18" stroke="#1a1a1a" stroke-width="1.1"/>
<text x="96.87" y="582.18" font-size="9.5" textLength="9.83" lengthAdjust="spacingAndGlyphs" fill="#1f1f1f">20</text>
<line x1="110.70" y1="562.30" x2="114.20" y2="562.30" stroke="#1a1a1a" stroke-width="1.1"/>
<text x="96.89" y="565.30" font-size="9.5" textLength="9.83" lengthAdjust="spacingAndGlyphs" fill="#1f1f1f">25</text>
<path d="M143.10,570.90 L143.10,562.30 L188.50,562.30 L188.50,597.80" fill="none" stroke="#151515" stroke-width="1.35" stroke-linejoin="round" stroke-linecap="round" stroke-linecap="butt" stroke-linejoin="miter"/>
<circle cx="165.55" cy="557.45" r="1.3" fill="#383838" stroke="none" stroke-width="0"/>
<circle cx="140.95" cy="583.70" r="1.3" fill="#383838" stroke="none" stroke-width="0"/>
<circle cx="144.90" cy="583.70" r="1.3" fill="#383838" stroke="none" stroke-width="0"/>
<circle cx="188.40" cy="601.55" r="1.3" fill="#383838" stroke="none" stroke-width="0"/>
<text transform="translate(89.60,643.50) rotate(-90)" x="-0.53" y="0" font-size="10.5" textLength="82.68" lengthAdjust="spacingAndGlyphs" fill="#1f1f1f">Covered area (%)</text>
<rect x="211.60" y="597.20" width="5.30" height="5.30" fill="#A30026"/>
<rect x="211.60" y="610.60" width="5.30" height="5.30" fill="#2F4B7C"/>
<text x="220.15" y="602.60" font-size="8.6" textLength="28.54" lengthAdjust="spacingAndGlyphs" fill="#1f1f1f">Control</text>
<text x="219.89" y="616.00" font-size="8.6" textLength="10.52" lengthAdjust="spacingAndGlyphs" fill="#1f1f1f">P1</text>
<text x="121.97" y="658.75" font-size="9.6" textLength="29.20" lengthAdjust="spacingAndGlyphs" fill="#1f1f1f">vehicle</text>
<text x="163.34" y="658.75" font-size="9.6" textLength="37.07" lengthAdjust="spacingAndGlyphs" fill="#1f1f1f">apy-indo</text>
<rect x="355.75" y="572.50" width="13.00" height="74.25" fill="#A30026"/>
<rect x="368.75" y="593.00" width="12.50" height="53.75" fill="#6BA544"/>
<rect x="400.00" y="569.50" width="13.00" height="77.25" fill="#A30026"/>
<rect x="413.00" y="614.00" width="12.50" height="32.75" fill="#6BA544"/>
<line x1="361.75" y1="572.50" x2="361.75" y2="571.25" stroke="#1a1a1a" stroke-width="1.2"/>
<line x1="358.00" y1="571.25" x2="365.50" y2="571.25" stroke="#1a1a1a" stroke-width="1.3"/>
<line x1="374.70" y1="593.00" x2="374.70" y2="587.20" stroke="#1a1a1a" stroke-width="1.2"/>
<line x1="371.20" y1="587.20" x2="378.30" y2="587.20" stroke="#1a1a1a" stroke-width="1.3"/>
<line x1="406.40" y1="569.60" x2="406.40" y2="565.75" stroke="#1a1a1a" stroke-width="1.2"/>
<line x1="402.90" y1="565.75" x2="409.90" y2="565.75" stroke="#1a1a1a" stroke-width="1.3"/>
<line x1="419.00" y1="614.00" x2="419.00" y2="609.70" stroke="#1a1a1a" stroke-width="1.2"/>
<line x1="415.80" y1="609.70" x2="422.90" y2="609.70" stroke="#1a1a1a" stroke-width="1.3"/>
<line x1="346.25" y1="558.75" x2="346.25" y2="647.35" stroke="#1a1a1a" stroke-width="1.4"/>
<line x1="345.65" y1="646.75" x2="435.00" y2="646.75" stroke="#1a1a1a" stroke-width="1.4"/>
<line x1="342.75" y1="646.75" x2="346.25" y2="646.75" stroke="#1a1a1a" stroke-width="1.1"/>
<text x="335.18" y="649.75" font-size="9.5" textLength="4.91" lengthAdjust="spacingAndGlyphs" fill="#1f1f1f">0</text>
<line x1="342.75" y1="632.64" x2="346.25" y2="632.64" stroke="#1a1a1a" stroke-width="1.1"/>
<text x="335.21" y="635.64" font-size="9.5" textLength="4.91" lengthAdjust="spacingAndGlyphs" fill="#1f1f1f">5</text>
<line x1="342.75" y1="618.52" x2="346.25" y2="618.52" stroke="#1a1a1a" stroke-width="1.1"/>
<text x="330.27" y="621.52" font-size="9.5" textLength="9.83" lengthAdjust="spacingAndGlyphs" fill="#1f1f1f">10</text>
<line x1="342.75" y1="604.41" x2="346.25" y2="604.41" stroke="#1a1a1a" stroke-width="1.1"/>
<text x="330.29" y="607.41" font-size="9.5" textLength="9.83" lengthAdjust="spacingAndGlyphs" fill="#1f1f1f">15</text>
<line x1="342.75" y1="590.30" x2="346.25" y2="590.30" stroke="#1a1a1a" stroke-width="1.1"/>
<text x="330.27" y="593.30" font-size="9.5" textLength="9.83" lengthAdjust="spacingAndGlyphs" fill="#1f1f1f">20</text>
<line x1="342.75" y1="576.19" x2="346.25" y2="576.19" stroke="#1a1a1a" stroke-width="1.1"/>
<text x="330.29" y="579.19" font-size="9.5" textLength="9.83" lengthAdjust="spacingAndGlyphs" fill="#1f1f1f">25</text>
<line x1="342.75" y1="562.08" x2="346.25" y2="562.08" stroke="#1a1a1a" stroke-width="1.1"/>
<text x="330.27" y="565.08" font-size="9.5" textLength="9.83" lengthAdjust="spacingAndGlyphs" fill="#1f1f1f">30</text>
<path d="M374.40,570.90 L374.40,561.90 L419.20,561.90 L419.20,600.50" fill="none" stroke="#151515" stroke-width="1.35" stroke-linejoin="round" stroke-linecap="round" stroke-linecap="butt" stroke-linejoin="miter"/>
<circle cx="396.70" cy="557.30" r="1.3" fill="#383838" stroke="none" stroke-width="0"/>
<circle cx="374.40" cy="582.80" r="1.3" fill="#383838" stroke="none" stroke-width="0"/>
<circle cx="414.70" cy="605.20" r="1.3" fill="#383838" stroke="none" stroke-width="0"/>
<circle cx="418.70" cy="605.20" r="1.3" fill="#383838" stroke="none" stroke-width="0"/>
<circle cx="422.70" cy="605.20" r="1.3" fill="#383838" stroke="none" stroke-width="0"/>
<text transform="translate(322.60,642.50) rotate(-90)" x="-0.53" y="0" font-size="10.5" textLength="81.67" lengthAdjust="spacingAndGlyphs" fill="#1f1f1f">Covered area (%)</text>
<rect x="443.75" y="597.00" width="5.30" height="5.30" fill="#A30026"/>
<rect x="443.75" y="610.50" width="5.30" height="5.30" fill="#6BA544"/>
<text x="452.30" y="602.40" font-size="8.6" textLength="28.54" lengthAdjust="spacingAndGlyphs" fill="#1f1f1f">Control</text>
<text x="452.04" y="615.90" font-size="8.6" textLength="10.52" lengthAdjust="spacingAndGlyphs" fill="#1f1f1f">P2</text>
<text x="354.47" y="658.75" font-size="9.6" textLength="28.44" lengthAdjust="spacingAndGlyphs" fill="#1f1f1f">vehicle</text>
<text x="394.09" y="658.75" font-size="9.6" textLength="37.07" lengthAdjust="spacingAndGlyphs" fill="#1f1f1f">apy-indo</text>
<rect x="123.75" y="707.00" width="13.25" height="64.25" fill="#A30026"/>
<rect x="137.00" y="747.00" width="13.00" height="24.25" fill="#2F4B7C"/>
<rect x="170.00" y="734.00" width="13.00" height="37.25" fill="#A30026"/>
<rect x="183.00" y="755.50" width="13.25" height="15.75" fill="#2F4B7C"/>
<line x1="130.40" y1="707.00" x2="130.40" y2="700.60" stroke="#1a1a1a" stroke-width="1.2"/>
<line x1="126.70" y1="700.60" x2="134.10" y2="700.60" stroke="#1a1a1a" stroke-width="1.3"/>
<line x1="143.50" y1="747.00" x2="143.50" y2="743.25" stroke="#1a1a1a" stroke-width="1.2"/>
<line x1="140.00" y1="743.25" x2="147.00" y2="743.25" stroke="#1a1a1a" stroke-width="1.3"/>
<line x1="176.50" y1="734.00" x2="176.50" y2="730.00" stroke="#1a1a1a" stroke-width="1.2"/>
<line x1="173.00" y1="730.00" x2="180.00" y2="730.00" stroke="#1a1a1a" stroke-width="1.3"/>
<line x1="189.50" y1="755.50" x2="189.50" y2="753.25" stroke="#1a1a1a" stroke-width="1.2"/>
<line x1="186.50" y1="753.25" x2="192.50" y2="753.25" stroke="#1a1a1a" stroke-width="1.3"/>
<line x1="114.20" y1="683.00" x2="114.20" y2="771.85" stroke="#1a1a1a" stroke-width="1.4"/>
<line x1="113.60" y1="771.25" x2="205.50" y2="771.25" stroke="#1a1a1a" stroke-width="1.4"/>
<line x1="110.70" y1="771.25" x2="114.20" y2="771.25" stroke="#1a1a1a" stroke-width="1.1"/>
<text x="102.18" y="774.25" font-size="9.5" textLength="4.91" lengthAdjust="spacingAndGlyphs" fill="#1f1f1f">0</text>
<line x1="110.70" y1="754.25" x2="114.20" y2="754.25" stroke="#1a1a1a" stroke-width="1.1"/>
<text x="92.35" y="757.25" font-size="9.5" textLength="14.74" lengthAdjust="spacingAndGlyphs" fill="#1f1f1f">200</text>
<line x1="110.70" y1="737.25" x2="114.20" y2="737.25" stroke="#1a1a1a" stroke-width="1.1"/>
<text x="92.35" y="740.25" font-size="9.5" textLength="14.74" lengthAdjust="spacingAndGlyphs" fill="#1f1f1f">400</text>
<line x1="110.70" y1="720.25" x2="114.20" y2="720.25" stroke="#1a1a1a" stroke-width="1.1"/>
<text x="92.35" y="723.25" font-size="9.5" textLength="14.74" lengthAdjust="spacingAndGlyphs" fill="#1f1f1f">600</text>
<line x1="110.70" y1="703.25" x2="114.20" y2="703.25" stroke="#1a1a1a" stroke-width="1.1"/>
<text x="92.35" y="706.25" font-size="9.5" textLength="14.74" lengthAdjust="spacingAndGlyphs" fill="#1f1f1f">800</text>
<line x1="110.70" y1="686.25" x2="114.20" y2="686.25" stroke="#1a1a1a" stroke-width="1.1"/>
<text x="87.44" y="689.25" font-size="9.5" textLength="19.65" lengthAdjust="spacingAndGlyphs" fill="#1f1f1f">1000</text>
<path d="M130.10,695.50 L130.10,687.10 L176.50,687.10 L176.50,722.40" fill="none" stroke="#151515" stroke-width="1.35" stroke-linejoin="round" stroke-linecap="round" stroke-linecap="butt" stroke-linejoin="miter"/>
<circle cx="151.30" cy="682.60" r="1.3" fill="#383838" stroke="none" stroke-width="0"/>
<circle cx="155.20" cy="682.60" r="1.3" fill="#383838" stroke="none" stroke-width="0"/>
<circle cx="139.60" cy="738.90" r="1.3" fill="#383838" stroke="none" stroke-width="0"/>
<circle cx="143.45" cy="738.90" r="1.3" fill="#383838" stroke="none" stroke-width="0"/>
<circle cx="147.30" cy="738.90" r="1.3" fill="#383838" stroke="none" stroke-width="0"/>
<circle cx="189.20" cy="749.30" r="1.3" fill="#383838" stroke="none" stroke-width="0"/>
<text transform="translate(78.80,743.90) rotate(-90)" x="-0.92" y="0" font-size="10.5" textLength="34.73" lengthAdjust="spacingAndGlyphs" fill="#1f1f1f">IFI (a.u)</text>
<rect x="212.00" y="730.50" width="5.30" height="5.30" fill="#A30026"/>
<rect x="212.00" y="744.50" width="5.30" height="5.30" fill="#2F4B7C"/>
<text x="220.55" y="735.90" font-size="8.6" textLength="28.54" lengthAdjust="spacingAndGlyphs" fill="#1f1f1f">Control</text>
<text x="220.29" y="749.90" font-size="8.6" textLength="10.52" lengthAdjust="spacingAndGlyphs" fill="#1f1f1f">P1</text>
<text x="122.47" y="783.25" font-size="9.6" textLength="29.20" lengthAdjust="spacingAndGlyphs" fill="#1f1f1f">vehicle</text>
<text x="164.59" y="783.25" font-size="9.6" textLength="37.07" lengthAdjust="spacingAndGlyphs" fill="#1f1f1f">apy-indo</text>
<rect x="355.75" y="704.25" width="13.00" height="67.00" fill="#A30026"/>
<rect x="368.75" y="749.50" width="12.50" height="21.75" fill="#6BA544"/>
<rect x="400.00" y="737.50" width="13.00" height="33.75" fill="#A30026"/>
<rect x="413.00" y="751.25" width="12.00" height="20.00" fill="#6BA544"/>
<line x1="362.00" y1="704.25" x2="362.00" y2="702.50" stroke="#1a1a1a" stroke-width="1.2"/>
<line x1="359.00" y1="702.50" x2="365.50" y2="702.50" stroke="#1a1a1a" stroke-width="1.3"/>
<line x1="375.00" y1="749.50" x2="375.00" y2="748.25" stroke="#1a1a1a" stroke-width="1.2"/>
<line x1="372.00" y1="748.25" x2="378.50" y2="748.25" stroke="#1a1a1a" stroke-width="1.3"/>
<line x1="406.50" y1="737.50" x2="406.50" y2="736.50" stroke="#1a1a1a" stroke-width="1.2"/>
<line x1="403.50" y1="736.50" x2="410.00" y2="736.50" stroke="#1a1a1a" stroke-width="1.3"/>
<line x1="419.00" y1="751.25" x2="419.00" y2="749.50" stroke="#1a1a1a" stroke-width="1.2"/>
<line x1="415.75" y1="749.50" x2="422.50" y2="749.50" stroke="#1a1a1a" stroke-width="1.3"/>
<line x1="346.25" y1="683.00" x2="346.25" y2="771.85" stroke="#1a1a1a" stroke-width="1.4"/>
<line x1="345.65" y1="771.25" x2="434.50" y2="771.25" stroke="#1a1a1a" stroke-width="1.4"/>
<line x1="342.75" y1="771.25" x2="346.25" y2="771.25" stroke="#1a1a1a" stroke-width="1.1"/>
<text x="333.93" y="774.25" font-size="9.5" textLength="4.91" lengthAdjust="spacingAndGlyphs" fill="#1f1f1f">0</text>
<line x1="342.75" y1="757.08" x2="346.25" y2="757.08" stroke="#1a1a1a" stroke-width="1.1"/>
<text x="324.10" y="760.08" font-size="9.5" textLength="14.74" lengthAdjust="spacingAndGlyphs" fill="#1f1f1f">100</text>
<line x1="342.75" y1="742.91" x2="346.25" y2="742.91" stroke="#1a1a1a" stroke-width="1.1"/>
<text x="324.10" y="745.91" font-size="9.5" textLength="14.74" lengthAdjust="spacingAndGlyphs" fill="#1f1f1f">200</text>
<line x1="342.75" y1="728.74" x2="346.25" y2="728.74" stroke="#1a1a1a" stroke-width="1.1"/>
<text x="324.10" y="731.74" font-size="9.5" textLength="14.74" lengthAdjust="spacingAndGlyphs" fill="#1f1f1f">300</text>
<line x1="342.75" y1="714.57" x2="346.25" y2="714.57" stroke="#1a1a1a" stroke-width="1.1"/>
<text x="324.10" y="717.57" font-size="9.5" textLength="14.74" lengthAdjust="spacingAndGlyphs" fill="#1f1f1f">400</text>
<line x1="342.75" y1="700.40" x2="346.25" y2="700.40" stroke="#1a1a1a" stroke-width="1.1"/>
<text x="324.10" y="703.40" font-size="9.5" textLength="14.74" lengthAdjust="spacingAndGlyphs" fill="#1f1f1f">500</text>
<line x1="342.75" y1="686.23" x2="346.25" y2="686.23" stroke="#1a1a1a" stroke-width="1.1"/>
<text x="324.10" y="689.23" font-size="9.5" textLength="14.74" lengthAdjust="spacingAndGlyphs" fill="#1f1f1f">600</text>
<path d="M362.30,695.70 L362.30,687.10 L406.20,687.10 L406.20,722.20" fill="none" stroke="#151515" stroke-width="1.35" stroke-linejoin="round" stroke-linecap="round" stroke-linecap="butt" stroke-linejoin="miter"/>
<circle cx="380.30" cy="682.30" r="1.3" fill="#383838" stroke="none" stroke-width="0"/>
<circle cx="384.20" cy="682.30" r="1.3" fill="#383838" stroke="none" stroke-width="0"/>
<circle cx="388.10" cy="682.30" r="1.3" fill="#383838" stroke="none" stroke-width="0"/>
<circle cx="371.10" cy="744.05" r="1.3" fill="#383838" stroke="none" stroke-width="0"/>
<circle cx="375.05" cy="744.05" r="1.3" fill="#383838" stroke="none" stroke-width="0"/>
<circle cx="379.00" cy="744.05" r="1.3" fill="#383838" stroke="none" stroke-width="0"/>
<circle cx="418.80" cy="745.30" r="1.3" fill="#383838" stroke="none" stroke-width="0"/>
<text transform="translate(316.30,743.90) rotate(-90)" x="-0.92" y="0" font-size="10.5" textLength="34.73" lengthAdjust="spacingAndGlyphs" fill="#1f1f1f">IFI (a.u)</text>
<rect x="443.75" y="736.25" width="5.30" height="5.30" fill="#A30026"/>
<rect x="443.75" y="750.00" width="5.30" height="5.30" fill="#6BA544"/>
<text x="452.30" y="741.65" font-size="8.6" textLength="28.54" lengthAdjust="spacingAndGlyphs" fill="#1f1f1f">Control</text>
<text x="452.04" y="755.40" font-size="8.6" textLength="10.52" lengthAdjust="spacingAndGlyphs" fill="#1f1f1f">P2</text>
<text x="353.72" y="783.25" font-size="9.6" textLength="29.20" lengthAdjust="spacingAndGlyphs" fill="#1f1f1f">vehicle</text>
<text x="394.09" y="783.25" font-size="9.6" textLength="36.81" lengthAdjust="spacingAndGlyphs" fill="#1f1f1f">apy-indo</text>
<rect x="0.00" y="0.00" width="1.40" height="795.00" fill="#000"/>
<rect x="518.30" y="0.00" width="1.70" height="795.00" fill="#161616"/>
<rect x="0.00" y="793.30" width="520.00" height="1.70" fill="#161616"/>
<rect x="0.00" y="0.00" width="520.00" height="1.70" fill="#4a4a4a"/>
</svg>
</body></html>
